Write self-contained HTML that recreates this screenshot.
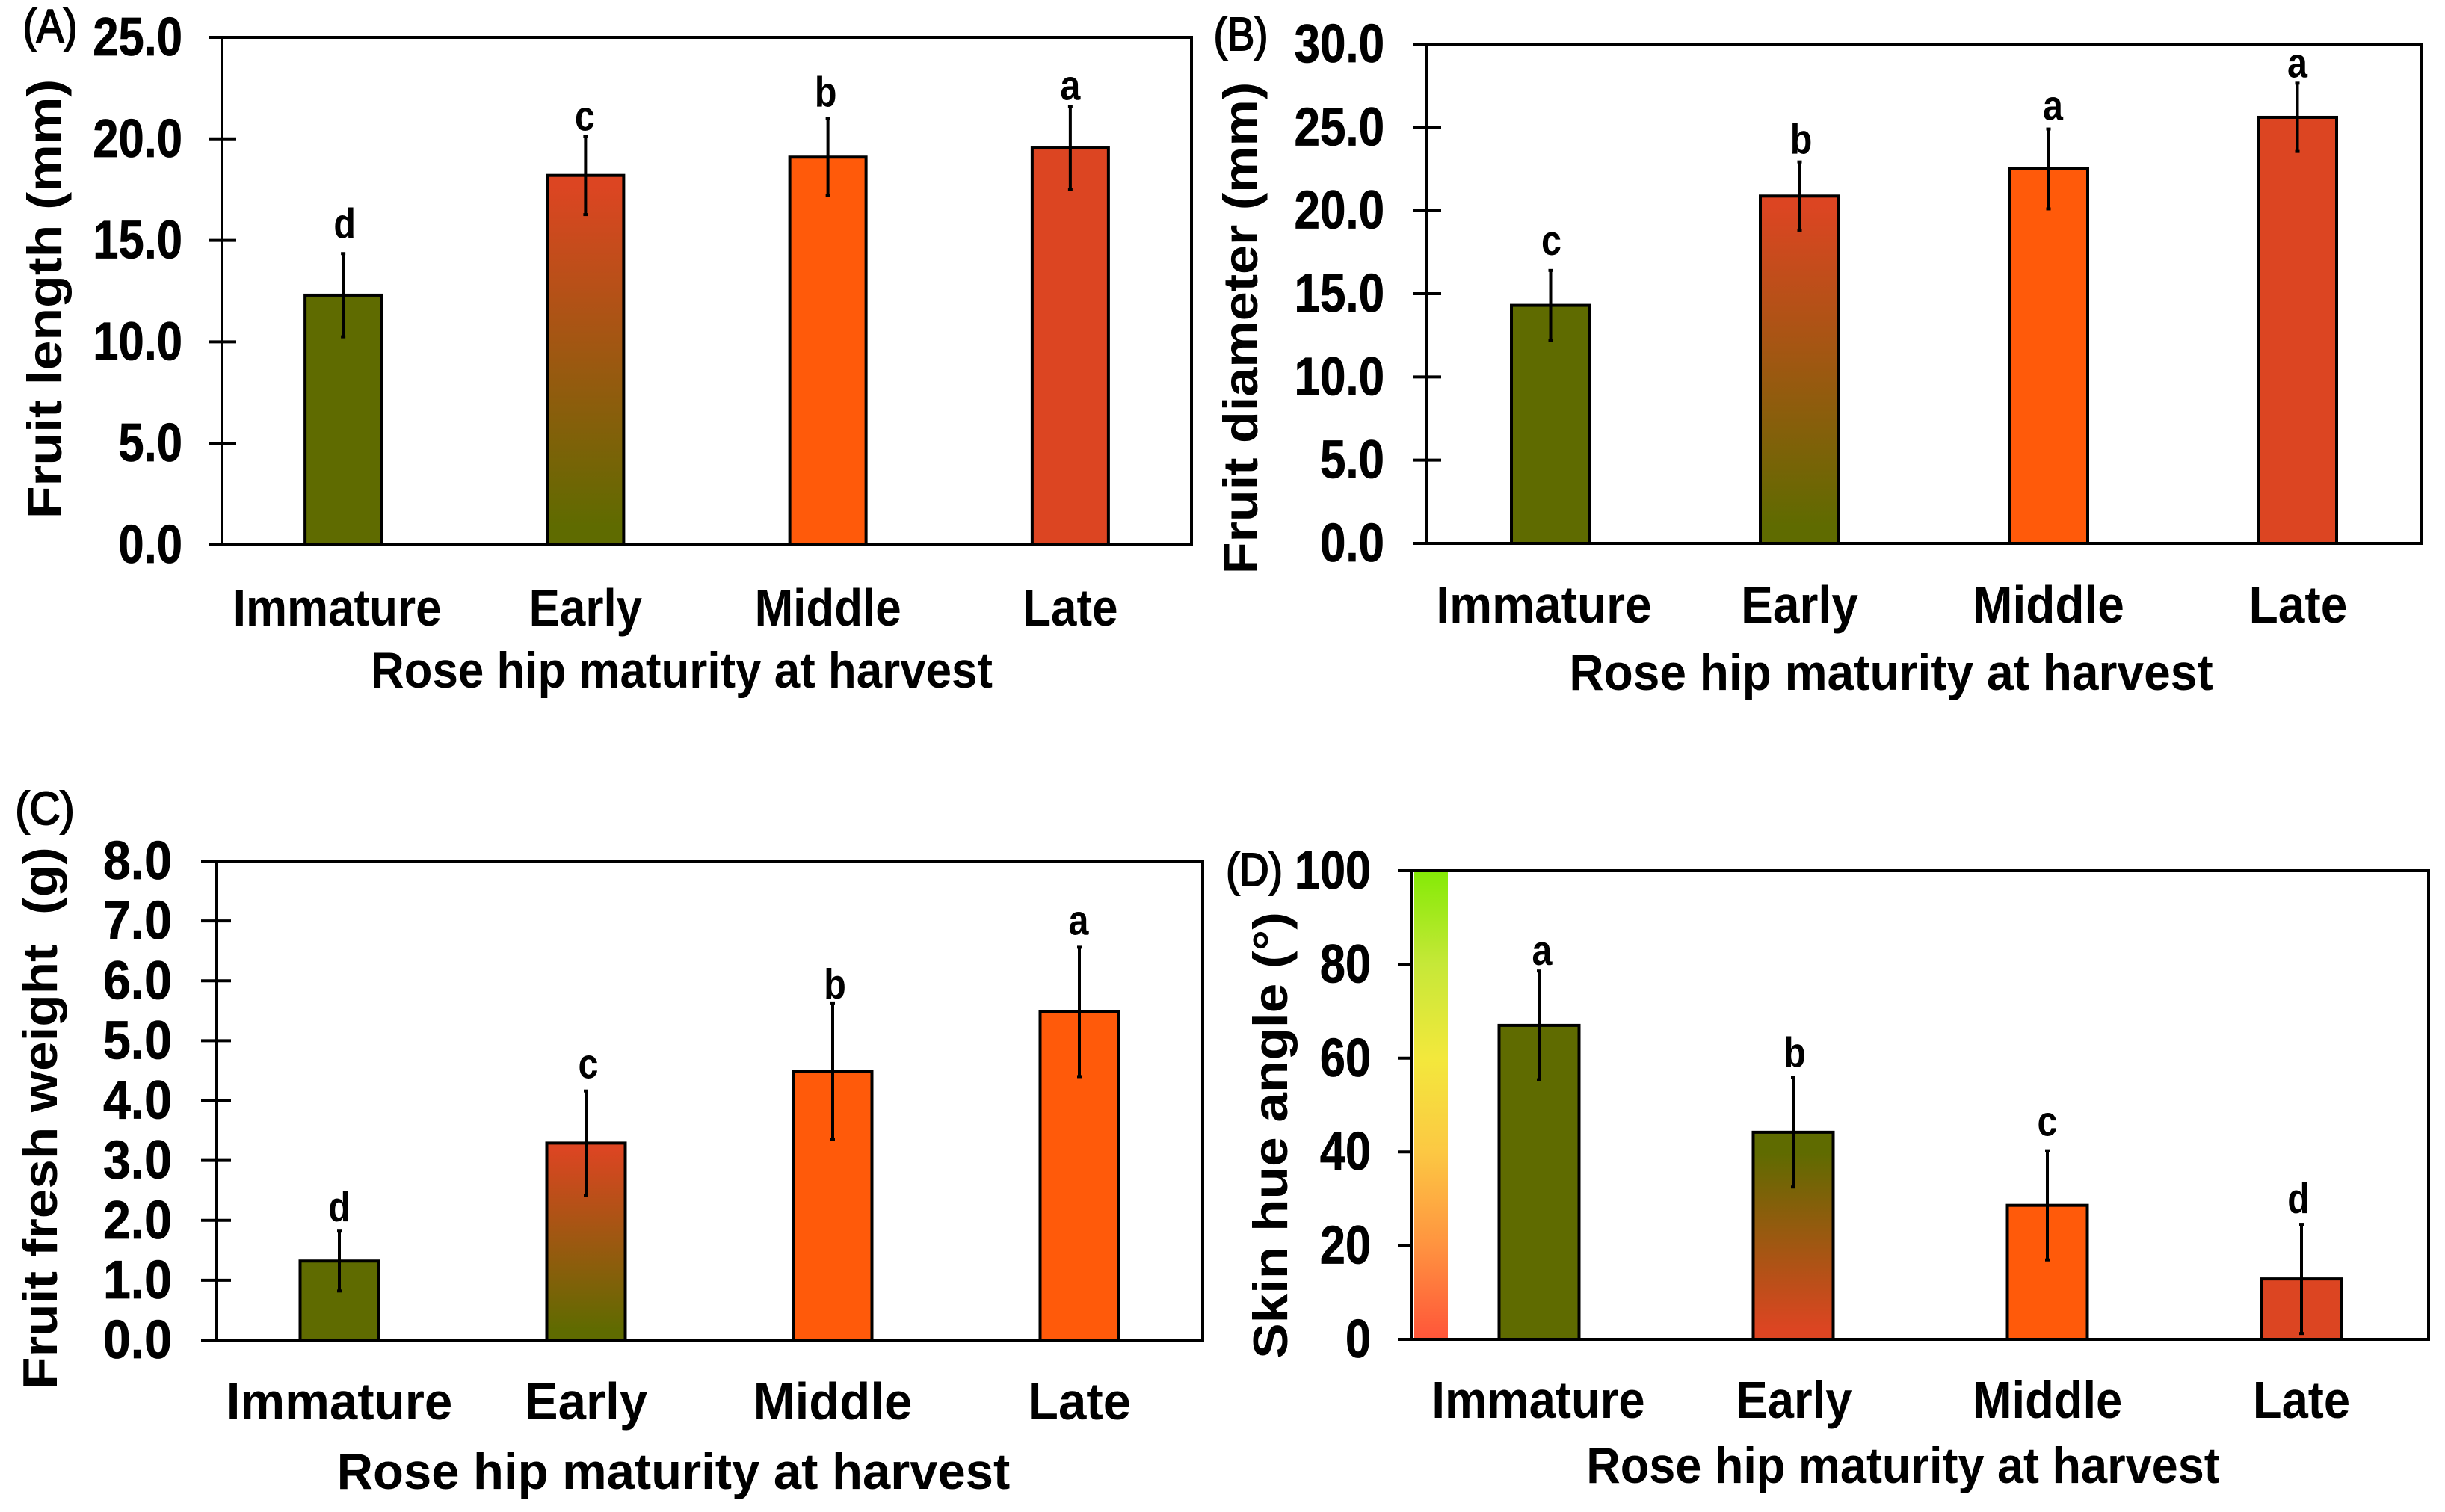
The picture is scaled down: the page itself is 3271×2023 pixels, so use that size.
<!DOCTYPE html>
<html lang="en">
<head>
<meta charset="utf-8">
<title>Rose hip maturity at harvest</title>
<style>
html,body{margin:0;padding:0;background:#fff;}
svg{display:block;}
text{font-family:"Liberation Sans",Arial,sans-serif;fill:#000;}
.bold{font-weight:bold;}
.heavy{font-weight:bold;stroke:#000;stroke-width:.8px;}
.label{font-weight:normal;stroke:#000;stroke-width:2px;}
.letter{font-weight:bold;}
</style>
</head>
<body>
<svg id="figure" xmlns="http://www.w3.org/2000/svg" width="3271" height="2023" viewBox="0 0 3271 2023">
  <defs>
    <linearGradient id="red-to-olive" x1="0" y1="0" x2="0" y2="1">
      <stop offset="0.03" stop-color="#dc4522"/>
      <stop offset="0.95" stop-color="#5f6b00"/>
    </linearGradient>
    <linearGradient id="olive-to-red" x1="0" y1="0" x2="0" y2="1">
      <stop offset="0.1" stop-color="#5f6b00"/>
      <stop offset="0.95" stop-color="#dc4522"/>
    </linearGradient>
    <linearGradient id="hue-scale" x1="0" y1="0" x2="0" y2="1">
      <stop offset="0" stop-color="#84ea06"/>
      <stop offset="0.2" stop-color="#c6e838"/>
      <stop offset="0.4" stop-color="#f3e83c"/>
      <stop offset="0.6" stop-color="#fcc843"/>
      <stop offset="0.8" stop-color="#ff9340"/>
      <stop offset="1" stop-color="#ff5539"/>
    </linearGradient>
  </defs>
  <rect x="0" y="0" width="3271" height="2023" fill="#fff"/>

  <g id="panel-a">
    <text class="label" font-size="62" transform="translate(67,56) scale(.88,1)" text-anchor="middle">(A)</text>
    <text class="bold" font-size="65" transform="translate(82,400) rotate(-90) scale(1.101,1)" text-anchor="middle">Fruit length (mm)</text>
    <text class="bold" font-size="68" transform="translate(912,920) scale(.91,1)" text-anchor="middle">Rose hip maturity at harvest</text>
  </g>
  <g id="panel-b">
    <text class="label" font-size="62" transform="translate(1660,67) scale(.88,1)" text-anchor="middle">(B)</text>
    <text class="bold" font-size="65" transform="translate(1682,439) rotate(-90) scale(1.079,1)" text-anchor="middle">Fruit diameter (mm)</text>
    <text class="bold" font-size="68" transform="translate(2530,923) scale(.942,1)" text-anchor="middle">Rose hip maturity at harvest</text>
  </g>
  <g id="panel-c">
    <text class="label" font-size="62" transform="translate(60,1103) scale(.92,1)" text-anchor="middle">(C)</text>
    <text class="bold" font-size="65" transform="translate(76,1496) rotate(-90) scale(1.092,1)" text-anchor="middle">Fruit fresh weight&#160;&#160;(g)</text>
    <text class="bold" font-size="68" transform="translate(901,1992) scale(.985,1)" text-anchor="middle">Rose hip maturity at harvest</text>
  </g>
  <g id="panel-d">
    <text class="label" font-size="62" transform="translate(1678,1185) scale(.88,1)" text-anchor="middle">(D)</text>
    <text class="bold" font-size="65" transform="translate(1722,1519) rotate(-90) scale(1.095,1)" text-anchor="middle">Skin hue angle (°)</text>
    <text class="bold" font-size="68" transform="translate(2546,1984) scale(.927,1)" text-anchor="middle">Rose hip maturity at harvest</text>
  </g>
</svg>

<script>
// Chart data
const categories = ['Immature', 'Early', 'Middle', 'Late'];

const lengthTicks = ['0.0', '5.0', '10.0', '15.0', '20.0', '25.0'];
const lengthValues = [12.3, 18.2, 19.1, 19.55];
const lengthErrors = [2.05, 1.93, 1.9, 2.05];
const lengthLetters = ['d', 'c', 'b', 'a'];

const diameterTicks = ['0.0', '5.0', '10.0', '15.0', '20.0', '25.0', '30.0'];
const diameterValues = [14.3, 20.87, 22.5, 25.6];
const diameterErrors = [2.1, 2.05, 2.4, 2.05];
const diameterLetters = ['c', 'b', 'a', 'a'];

const weightTicks = ['0.0', '1.0', '2.0', '3.0', '4.0', '5.0', '6.0', '7.0', '8.0'];
const weightValues = [1.32, 3.29, 4.49, 5.48];
const weightErrors = [0.5, 0.87, 1.14, 1.08];
const weightLetters = ['d', 'c', 'b', 'a'];

const hueTicks = ['0', '20', '40', '60', '80', '100'];
const hueValues = [67, 44.2, 28.6, 12.9];
const hueErrors = [11.6, 11.7, 11.65, 11.65];
const hueLetters = ['a', 'b', 'c', 'd'];

// Layout and styling for each panel
const OLIVE = '#5f6b00', ORANGE = '#ff5a0a', RED = '#dc4522';
const SVG_NS = 'http://www.w3.org/2000/svg';

const panels = [
  {
    id: 'a', group: 'panel-a', ticks: lengthTicks, values: lengthValues, errors: lengthErrors, letters: lengthLetters,
    left: 297, right: 1594, top: 50, bottom: 729, barW: 102,
    tickL: 280, tickR: 316, tickAnchor: 244, tickSx: 0.855, tickDy: 24,
    catY: 837, catSx: 0.885, catDx: [-8, 0, 0, 0],
    fills: [OLIVE, 'url(#red-to-olive)', ORANGE, RED],
    letterGap: [21, 8, 16, 9], letterDx: [2, -1, -3, 0]
  },
  {
    id: 'b', group: 'panel-b', ticks: diameterTicks, values: diameterValues, errors: diameterErrors, letters: diameterLetters,
    left: 1908, right: 3240, top: 59, bottom: 727, barW: 105,
    tickL: 1890, tickR: 1928, tickAnchor: 1852, tickSx: 0.86, tickDy: 24,
    catY: 833, catSx: 0.915, catDx: [-9, 0, 0, 1],
    fills: [OLIVE, 'url(#red-to-olive)', ORANGE, RED],
    letterGap: [21, 11, 12, 8], letterDx: [1, 2, 6, 0]
  },
  {
    id: 'c', group: 'panel-c', ticks: weightTicks, values: weightValues, errors: weightErrors, letters: weightLetters,
    left: 289, right: 1609, top: 1152, bottom: 1793, barW: 105,
    tickL: 269, tickR: 309, tickAnchor: 230, tickSx: 0.92, tickDy: 24,
    catY: 1899, catSx: 0.96, catDx: [0, 0, 0, 0],
    fills: [OLIVE, 'url(#red-to-olive)', ORANGE, ORANGE],
    letterGap: [13, 17, 6, 17], letterDx: [0, 3, 3, -1]
  },
  {
    id: 'd', group: 'panel-d', ticks: hueTicks, values: hueValues, errors: hueErrors, letters: hueLetters,
    left: 1889, right: 3249, top: 1165, bottom: 1792, barW: 107,
    tickL: 1870, tickR: 1889, tickAnchor: 1834, tickSx: 0.85, tickDy: 24,
    catY: 1897, catSx: 0.905, catDx: [-1, 1, 0, 0],
    fills: [OLIVE, 'url(#olive-to-red)', ORANGE, RED],
    letterGap: [8, 14, 20, 15], letterDx: [4, 2, 0, -4],
    hueScale: true
  }
];

// Axis functions
function makeYScale(p) {
  const max = parseFloat(p.ticks[p.ticks.length - 1]);
  return function (v) { return p.bottom - (v / max) * (p.bottom - p.top); };
}
function makeXScale(p) {
  const step = (p.right - p.left) / categories.length;
  return function (i) { return p.left + (i + 0.5) * step; };
}
function svgEl(tag, parent) {
  const el = document.createElementNS(SVG_NS, tag);
  parent.appendChild(el);
  return el;
}
function drawLine(parent, x1, y1, x2, y2, width) {
  const el = svgEl('line', parent);
  el.setAttribute('x1', x1);
  el.setAttribute('y1', y1);
  el.setAttribute('x2', x2);
  el.setAttribute('y2', y2);
  el.setAttribute('stroke', '#000');
  el.setAttribute('stroke-width', width);
  return el;
}
function drawText(parent, str, x, y, size, sx, anchor, cls) {
  const el = svgEl('text', parent);
  el.textContent = str;
  el.setAttribute('font-size', size);
  el.setAttribute('text-anchor', anchor);
  el.setAttribute('class', cls);
  el.setAttribute('transform', 'translate(' + x + ',' + y + ') scale(' + sx + ',1)');
  return el;
}

panels.forEach(function (p) {
  const g = document.getElementById(p.group);
  const y = makeYScale(p);
  const x = makeXScale(p);

  // Bars
  p.values.forEach(function (v, i) {
    const bar = svgEl('rect', g);
    
    
    bar.setAttribute('x', x(i) - p.barW / 2);
    bar.setAttribute('y', y(v));
    bar.setAttribute('width', p.barW);
    bar.setAttribute('height', p.bottom - y(v));
    bar.setAttribute('fill', p.fills[i]);
    bar.setAttribute('stroke', '#000');
    bar.setAttribute('stroke-width', 4);
  });

  // Hue colour scale
  if (p.hueScale) {
    const scale = svgEl('rect', g);
    
    
    scale.setAttribute('x', p.left + 3);
    scale.setAttribute('y', p.top);
    scale.setAttribute('width', 45);
    scale.setAttribute('height', p.bottom - p.top);
    scale.setAttribute('fill', 'url(#hue-scale)');
  }

  // Frame
  const frame = svgEl('rect', g);
  
  
  frame.setAttribute('x', p.left);
  frame.setAttribute('y', p.top);
  frame.setAttribute('width', p.right - p.left);
  frame.setAttribute('height', p.bottom - p.top);
  frame.setAttribute('fill', 'none');
  frame.setAttribute('stroke', '#000');
  frame.setAttribute('stroke-width', 4);

  // Y ticks and labels
  p.ticks.forEach(function (label) {
    const v = parseFloat(label);
    const tick = drawLine(g, p.tickL, y(v), p.tickR, y(v), 4);
    
    
    const tickText = drawText(g, label, p.tickAnchor, y(v) + p.tickDy, 72, p.tickSx, 'end', 'heavy');
    
    
  });

  // Error bars and significance letters
  p.values.forEach(function (v, i) {
    const hi = y(v + p.errors[i]);
    const lo = y(v - p.errors[i]);
    const err = drawLine(g, x(i), hi, x(i), lo, 4);
    
    
    [hi, lo].forEach(function (cy) {
      const cap = drawLine(g, x(i) - 3, cy, x(i) + 3, cy, 4);
      
      
    });
    const letter = drawText(g, p.letters[i], x(i) + p.letterDx[i], hi - p.letterGap[i], 57, 0.85, 'middle', 'letter');
    
    
  });

  // Category labels
  categories.forEach(function (c, i) {
    const cat = drawText(g, c, x(i) + p.catDx[i], p.catY, 70, p.catSx, 'middle', 'bold');
    
    
  });
});
</script>
</body>
</html>
